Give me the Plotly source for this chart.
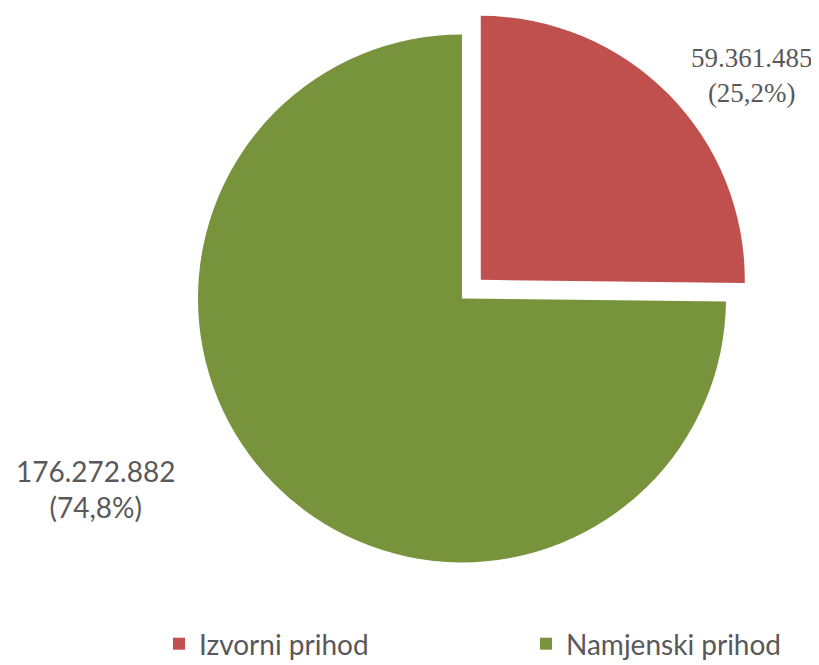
import plotly.graph_objects as go

labels = ["Izvorni prihod", "Namjenski prihod"]
values = [59361485, 176272882]
percent_labels = ["25,2%", "74,8%"]
colors = ["#C0504D", "#77933C"]

def fmt(v):
    return f"{v:,}".replace(",", ".")

W, H = 819, 665
PULL = 0.1
R = 264
CX, CY = 454, R * (1 + PULL)
half = R * (1 + PULL)

fig = go.Figure(go.Pie(
    labels=labels, values=values, sort=False, direction="clockwise", rotation=0,
    pull=[PULL, 0], marker=dict(colors=colors, line=dict(width=0)),
    textinfo="none", hoverinfo="label+value+percent",
    domain=dict(x=[(CX - half) / W, (CX + half) / W], y=[1 - (CY + half) / H, 1]),
))

fig.add_annotation(x=744/W, y=1-67/H, xref="paper", yref="paper", xanchor="center", yanchor="middle",
                   text=f"{fmt(values[0])}<br>({percent_labels[0]})", showarrow=False,
                   font=dict(family="Liberation Serif", size=27, color="#595959"), align="center")
fig.add_annotation(x=87/W, y=1-481/H, xref="paper", yref="paper", xanchor="center", yanchor="middle",
                   text=f"{fmt(values[1])}<br>({percent_labels[1]})", showarrow=False,
                   font=dict(family="Lato", size=28, color="#595959"), align="center")

fig.update_layout(
    width=W, height=H, margin=dict(l=0, r=0, t=0, b=0, autoexpand=False),
    paper_bgcolor="white", plot_bgcolor="white",
    legend=dict(orientation="h", x=151/W, xanchor="left", y=1-636/H, yanchor="middle",
                entrywidth=322, entrywidthmode="pixels",
                font=dict(family="Lato", size=28, color="#595959")),
)
fig.write_html("out.html")
